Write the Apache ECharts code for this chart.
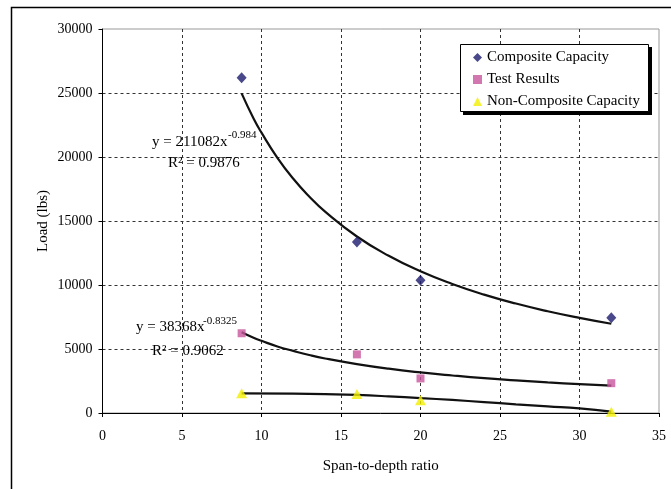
<!DOCTYPE html>
<html><head><meta charset="utf-8">
<script src="https://cdn.jsdelivr.net/npm/echarts@6/dist/echarts.min.js"></script>
<style>html,body{margin:0;padding:0;background:#fff}#c{width:671px;height:489px}</style>
</head><body><div id="c"></div>
<script>
// ---- data ----
const spanRatio = [8.75, 16, 20, 32];
const compositeCapacity = [26200, 13350, 10380, 7450];
const testResults = [6230, 4580, 2700, 2330];
const nonCompositeCapacity = [1540, 1480, 990, 100];

// trendline samples (values of the displayed fitted curves)
const trendX = [8.75, 9.5, 10, 11, 12, 13, 14, 16, 18, 20, 22, 24, 26, 28, 30, 32];
const compositeTrend = [24970, 23010, 21900, 19940, 18300, 16920, 15730, 13790, 12280, 11070, 10080, 9250, 8550, 7950, 7430, 6970];
const testTrend = [6310, 5880, 5640, 5200, 4850, 4530, 4260, 3820, 3460, 3170, 2930, 2720, 2550, 2390, 2260, 2140];
const nonCompositeTrendX = [8.75, 12, 14, 16, 18, 20, 22, 24, 26, 28, 30, 32];
const nonCompositeTrend = [1540, 1510, 1470, 1410, 1300, 1160, 1020, 850, 680, 520, 360, 110];

const seriesNames = ['Composite Capacity', 'Test Results', 'Non-Composite Capacity'];
const xTicks = [0, 5, 10, 15, 20, 25, 30, 35];
const yTicks = [0, 5000, 10000, 15000, 20000, 25000, 30000];
const eq1 = ['y = 211082x', '-0.984', 'R² = 0.9876'];
const eq2 = ['y = 38368x', '-0.8325', 'R² = 0.9062'];

const FONT = '"Liberation Serif", "Times New Roman", serif';
const pair = (xs, ys) => xs.map((x, i) => [x, ys[i]]);

const chart = echarts.init(document.getElementById('c'), null, {renderer: 'canvas'});
const trendStyle = {color: '#111', width: 2.2};
chart.setOption({
  animation: false,
  backgroundColor: '#fff',
  grid: {left: 102.5, top: 29, right: 12, bottom: 76, show: true, borderColor: '#999', borderWidth: 1, backgroundColor: 'transparent'},
  xAxis: {
    type: 'value', min: xTicks[0], max: xTicks[xTicks.length - 1], interval: 5,
    name: 'Span-to-depth ratio', nameLocation: 'middle', nameGap: 46, nameMoveOverlap: false,
    nameTextStyle: {fontFamily: FONT, fontSize: 15, color: '#000'},
    axisLine: {show: true, onZero: false, lineStyle: {color: '#000', width: 1}},
    axisTick: {show: true, length: 4, lineStyle: {color: '#000'}},
    axisLabel: {fontFamily: FONT, fontSize: 14, color: '#000', margin: 16, formatter: v => String(v)},
    splitLine: {show: true, showMinLine: false, showMaxLine: false, lineStyle: {color: '#333', width: 1, type: [3, 3]}}
  },
  yAxis: {
    type: 'value', min: yTicks[0], max: yTicks[yTicks.length - 1], interval: 5000,
    name: 'Load (lbs)', nameLocation: 'middle', nameGap: 52, nameMoveOverlap: false,
    nameTextStyle: {fontFamily: FONT, fontSize: 15, color: '#000'},
    axisLine: {show: true, onZero: false, lineStyle: {color: '#000', width: 1}},
    axisTick: {show: true, length: 4, lineStyle: {color: '#000'}},
    axisLabel: {fontFamily: FONT, fontSize: 14, color: '#000', margin: 10, formatter: v => String(v)},
    splitLine: {show: true, showMinLine: false, showMaxLine: false, lineStyle: {color: '#333', width: 1, type: [3, 3]}}
  },
  legend: {
    orient: 'vertical', left: 473, top: 50, padding: 0,
    itemWidth: 9, itemHeight: 9, itemGap: 7, z: 20,
    data: seriesNames,
    textStyle: {fontFamily: FONT, fontSize: 15, color: '#000'}
  },
  graphic: [
    {type: 'rect', z: 0, silent: true, shape: {x: 11.5, y: 7.5, width: 680, height: 500}, style: {fill: 'none', stroke: '#000', lineWidth: 1.5}},
    {type: 'rect', z: 15, silent: true, shape: {x: 463, y: 47, width: 189, height: 68}, style: {fill: '#000'}},
    {type: 'rect', z: 16, silent: true, shape: {x: 460.5, y: 44.5, width: 188, height: 67}, style: {fill: '#fff', stroke: '#000', lineWidth: 1}},
    {type: 'text', z: 16, x: 152, y: 142, style: {text: eq1[0], font: '15px ' + FONT, fill: '#000', verticalAlign: 'middle'}},
    {type: 'text', z: 16, x: 228, y: 135, style: {text: eq1[1], font: '11px ' + FONT, fill: '#000', verticalAlign: 'middle'}},
    {type: 'text', z: 16, x: 168, y: 163, style: {text: eq1[2], font: '15px ' + FONT, fill: '#000', verticalAlign: 'middle'}},
    {type: 'text', z: 16, x: 136, y: 327, style: {text: eq2[0], font: '15px ' + FONT, fill: '#000', verticalAlign: 'middle'}},
    {type: 'text', z: 16, x: 203, y: 321, style: {text: eq2[1], font: '11px ' + FONT, fill: '#000', verticalAlign: 'middle'}},
    {type: 'text', z: 16, x: 152, y: 351, style: {text: eq2[2], font: '15px ' + FONT, fill: '#000', verticalAlign: 'middle'}}
  ],
  series: [
    {name: 'trend1', type: 'line', data: pair(trendX, compositeTrend), smooth: true, showSymbol: false, lineStyle: trendStyle, z: 3},
    {name: 'trend2', type: 'line', data: pair(trendX, testTrend), smooth: true, showSymbol: false, lineStyle: trendStyle, z: 3},
    {name: 'trend3', type: 'line', data: pair(nonCompositeTrendX, nonCompositeTrend), smooth: true, showSymbol: false, lineStyle: trendStyle, z: 3},
    {name: seriesNames[0], type: 'scatter', data: pair(spanRatio, compositeCapacity), symbol: 'diamond', symbolSize: [10, 11], itemStyle: {color: '#1A1A6E'}, z: 5},
    {name: seriesNames[1], type: 'scatter', data: pair(spanRatio, testResults), symbol: 'rect', symbolSize: 8, itemStyle: {color: '#C8559E'}, z: 5},
    {name: seriesNames[2], type: 'scatter', data: pair(spanRatio, nonCompositeCapacity), symbol: 'triangle', symbolSize: [11, 10], itemStyle: {color: '#F2EE00'}, z: 5}
  ]
});
</script>
</body></html>
